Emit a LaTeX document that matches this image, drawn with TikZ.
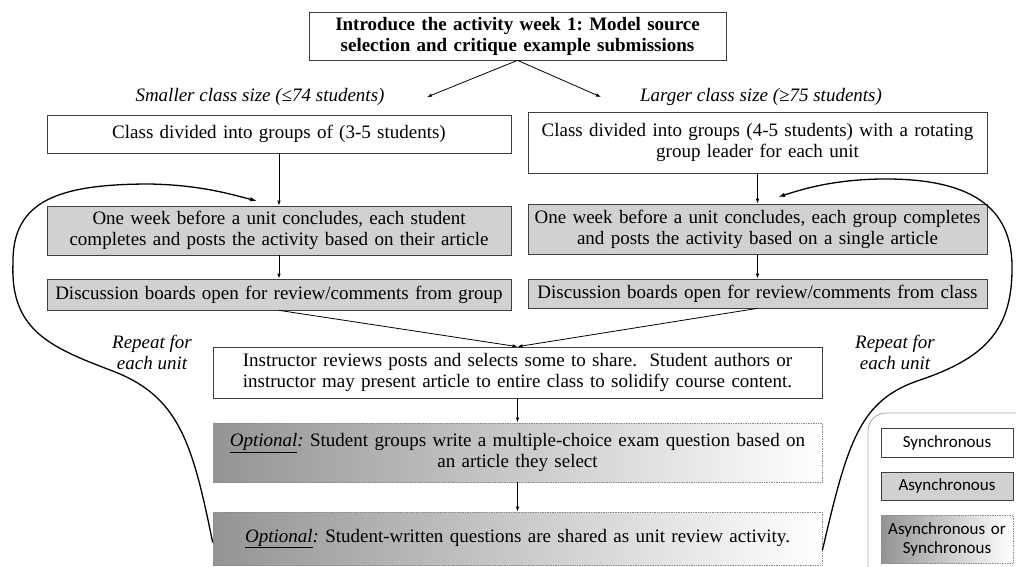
\documentclass[tikz,border=0pt]{standalone}
\usepackage{fontspec}
\setmainfont{Liberation Serif}
\newfontfamily\legendfont{Carlito}
\usetikzlibrary{arrows.meta}
\frenchspacing

\begin{document}
\begin{tikzpicture}[x=1pt,y=-1pt,
      font=\fontsize{19}{21}\selectfont,
      box/.style={draw=black!75, line width=0.7pt, align=center, inner xsep=4pt, inner ysep=0pt},
      synbox/.style={box, fill=white},
      asynbox/.style={box, fill=black!18},
      optbox/.style={box, draw=black!45, densely dotted, left color=black!42, right color=white},
      legbox/.style={text width=124pt, font=\fontsize{17}{19}\selectfont\legendfont},
      flow/.style={-{Latex[length=5pt,width=3.5pt]}, line width=0.8pt},
      loop/.style={-{Latex[length=7pt,width=4.5pt]}, line width=1.3pt}]
      \useasboundingbox (0,0) rectangle (1016,566);
      \node[synbox, text width=409pt, minimum height=48pt, font=\fontsize{19}{21}\selectfont\bfseries] (intro) at (517.5,36)
        {Introduce the activity week 1: Model source\\selection and critique example submissions};
      \node[font=\fontsize{19}{21}\selectfont\itshape] (smalllbl) at (260,97) {Smaller class size (≤74 students)};
      \node[font=\fontsize{19}{21}\selectfont\itshape] (largelbl) at (761,97) {Larger class size (≥75 students)};
      \coordinate (smallend) at (427,97);
      \coordinate (largeend) at (601,97);
      \node[synbox, text width=456pt, minimum height=38pt] (small1) at (279,134) {Class divided into groups of (3-5 students)};
      \node[synbox, text width=451pt, minimum height=61pt] (large1) at (757.5,142.5)
        {Class divided into groups (4-5 students) with a rotating\\group leader for each unit};
      \node[asynbox, text width=456pt, minimum height=49pt] (small2) at (279,230.5)
        {One week before a unit concludes, each student\\completes and posts the activity based on their article};
      \node[asynbox, text width=451pt, minimum height=50pt] (large2) at (757.5,229)
        {One week before a unit concludes, each group completes\\and posts the activity based on a single article};
      \node[asynbox, text width=456pt, minimum height=31pt] (small3) at (279,294.5)
        {Discussion boards open for review/comments from group};
      \node[asynbox, text width=451pt, minimum height=29pt] (large3) at (757.5,293.5)
        {Discussion boards open for review/comments from class};
      \node[synbox, text width=601pt, minimum height=51pt] (review) at (517.5,372.5)
        {Instructor reviews posts and selects some to share.\ \ Student authors or\\instructor may present article to entire class to solidify course content.};
      \node[optbox, text width=601pt, minimum height=59pt] (exam) at (517.5,452.5)
        {\underline{\textit{Optional}}\textit{:} Student groups write a multiple-choice exam question based on\\an article they select};
      \node[optbox, text width=601pt, minimum height=53pt] (share) at (517.5,538.5)
        {\underline{\textit{Optional}}\textit{:} Student-written questions are shared as unit review activity.};
      \node[align=center, font=\fontsize{19}{21}\selectfont\itshape] (repeatl) at (152,352) {Repeat for\\each unit};
      \node[align=center, font=\fontsize{19}{21}\selectfont\itshape] (repeatr) at (895,352) {Repeat for\\each unit};
      \coordinate (loopl) at (257,201);
      \coordinate (loopr) at (778,197);
      \draw[flow] (intro.south) -- (smallend);
      \draw[flow] (intro.south) -- (largeend);
      \draw[flow] (small1) -- (small2);
      \draw[flow] (large1) -- (large2);
      \draw[flow] (small2) -- (small3);
      \draw[flow] (large2) -- (large3);
      \draw[flow] (small3.south) -- (review.north);
      \draw[flow] (large3.south) -- (review.north);
      \draw[flow] (review) -- (exam);
      \draw[flow] (exam) -- (share);
      \draw[loop] ([yshift=-4pt]share.west) .. controls (192,440) and (178,395) .. (110,370)
        .. controls (50,347) and (10,330) .. (13,263) .. controls (12,200) and (60,184) .. (150,184)
        .. controls (200,185) and (230,194) .. (loopl);
      \draw[loop] ([yshift=-12pt]share.east) .. controls (848,440) and (860,400) .. (920,380)
        .. controls (985,358) and (1013,330) .. (1012,265) .. controls (1011,200) and (960,178) .. (880,179)
        .. controls (830,180) and (800,190) .. (loopr);
      \draw[black!35, line width=0.8pt, rounded corners=18pt] (868,413) rectangle (1040,590);
      \node[synbox, legbox, minimum height=29pt] (legsyn) at (947,442.5) {Synchronous};
      \node[asynbox, legbox, minimum height=28pt] (legasyn) at (947,486) {Asynchronous};
      \node[optbox, legbox, minimum height=48pt] (legopt) at (947,539) {Asynchronous or\\Synchronous};
    \end{tikzpicture}
\end{document}
